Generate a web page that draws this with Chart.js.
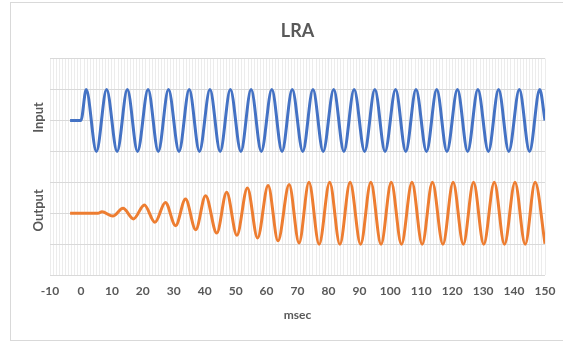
<!DOCTYPE html>
<html lang="en">
<head>
  <meta charset="UTF-8">
  <title>LRA</title>
  <script src="https://cdn.jsdelivr.net/npm/chart.js"></script>
  <style>
    html, body {
      margin: 0;
      padding: 0;
      background: #fff;
      overflow: hidden;
    }
    .frame {
      position: absolute;
      left: 10px;
      top: 2px;
      width: 620px;
      height: 337px;
      border: 1px solid #d9d9d9;
    }
    .wrap {
      position: absolute;
      left: 0;
      top: 0;
      width: 563px;
      height: 341px;
    }
  </style>
</head>
<body>
  <div class="frame"></div>
  <div class="wrap"><canvas id="lraChart" width="563" height="341"></canvas></div>

  <script>
    // peaks / troughs (msec, normalised amplitude)
    const inputTime = [-3.5, 0, 1.7, 5.0, 8.3, 11.7, 15.0, 18.3, 21.7, 25.0, 28.3, 31.7, 35.0, 38.3,
      41.7, 45.0, 48.3, 51.7, 55.0, 58.3, 61.7, 65.0, 68.3, 71.7, 75.0, 78.3, 81.7, 85.0, 88.3, 91.7,
      95.0, 98.3, 101.7, 105.0, 108.3, 111.7, 115.0, 118.3, 121.7, 125.0, 128.3, 131.7, 135.0, 138.3,
      141.7, 145.0, 148.3, 150];
    const inputValue = [0, 0, 1, -1, 1, -1, 1, -1, 1, -1, 1, -1, 1, -1,
      1, -1, 1, -1, 1, -1, 1, -1, 1, -1, 1, -1, 1, -1, 1, -1,
      1, -1, 1, -1, 1, -1, 1, -1, 1, -1, 1, -1, 1, -1,
      1, -1, 1, 0];

    const outputTime = [-3.5, 5.5, 6.8, 10.3, 13.6, 17.0, 20.5, 23.9, 27.3, 30.6, 33.8, 37.1, 40.3,
      43.9, 47.1, 50.4, 53.8, 57.1, 60.5, 63.7, 67.3, 70.5, 73.7, 77.0, 80.4, 83.7, 87.0, 90.4, 93.7,
      97.0, 100.3, 103.6, 107.0, 110.3, 113.6, 117.0, 120.3, 123.6, 126.9, 130.2, 133.6, 136.9, 140.3,
      143.6, 146.8, 150];
    const outputValue = [0, 0, 0.05, -0.09, 0.16, -0.18, 0.27, -0.29, 0.35, -0.40, 0.46, -0.53, 0.57,
      -0.64, 0.68, -0.71, 0.82, -0.80, 0.90, -0.89, 0.93, -0.96, 1.0, -1.0, 1.0, -1.0, 1.0, -1.0, 1.0,
      -1.0, 1.0, -1.0, 1.0, -1.0, 1.0, -1.0, 1.0, -1.0, 1.0, -1.0, 1.0, -1.0, 1.0,
      -1.0, 1.0, -0.98];

    const panelNames = ['Input', 'Output'];
    const INPUT_BASE = 2;
    const OUTPUT_BASE = -1;

    const textColor = '#595959';
    const fontFamily = 'Lato, "Liberation Sans", Arial, sans-serif';

    function toPoints(times, values, base) {
      return times.map((t, i) => ({ x: t, y: values[i] + base }));
    }

    const panelLabels = {
      id: 'panelLabels',
      afterDraw(chart) {
        const ctx = chart.ctx;
        const y = chart.scales.y;
        ctx.save();
        ctx.fillStyle = textColor;
        ctx.font = 'bold 13px ' + fontFamily;
        ctx.textAlign = 'center';
        ctx.textBaseline = 'middle';
        [[panelNames[0], INPUT_BASE], [panelNames[1], OUTPUT_BASE]].forEach(([txt, v]) => {
          ctx.save();
          ctx.translate(39, y.getPixelForValue(v) - 3);
          ctx.rotate(-Math.PI / 2);
          ctx.fillText(txt, 0, 0);
          ctx.restore();
        });
        ctx.restore();
      }
    };

    new Chart(document.getElementById('lraChart'), {
      type: 'line',
      data: {
        datasets: [
          {
            label: 'Input',
            data: toPoints(inputTime, inputValue, INPUT_BASE),
            borderColor: '#4472C4',
            borderWidth: 3,
            pointRadius: 0,
            cubicInterpolationMode: 'monotone',
            fill: false
          },
          {
            label: 'Output',
            data: toPoints(outputTime, outputValue, OUTPUT_BASE),
            borderColor: '#ED7D31',
            borderWidth: 3,
            pointRadius: 0,
            cubicInterpolationMode: 'monotone',
            fill: false
          }
        ]
      },
      options: {
        responsive: false,
        animation: false,
        layout: { padding: { left: 50, right: 18, top: 0, bottom: 17 } },
        plugins: {
          legend: { display: false },
          tooltip: { enabled: false },
          title: {
            display: true,
            text: 'LRA',
            color: textColor,
            font: { family: fontFamily, size: 18, weight: 'bold' },
            padding: { top: 20, bottom: 17 }
          }
        },
        scales: {
          x: {
            type: 'linear',
            min: -10,
            max: 150,
            grid: { color: '#ececec', drawTicks: false },
            border: { display: false },
            afterFit: s => { s.paddingLeft = 0; s.paddingRight = 0; },
            ticks: {
              stepSize: 1,
              autoSkip: false,
              maxRotation: 0,
              padding: 9,
              color: textColor,
              font: { family: fontFamily, size: 12, weight: 'bold' },
              callback: v => (v % 10 === 0 ? v : '')
            },
            title: {
              display: true,
              text: 'msec',
              color: textColor,
              font: { family: fontFamily, size: 12, weight: 'bold' },
              padding: { top: 0, bottom: 2 }
            }
          },
          y: {
            min: -3,
            max: 4,
            grid: { color: '#d9d9d9', drawTicks: false },
            border: { display: false },
            ticks: { stepSize: 1, display: false }
          }
        }
      },
      plugins: [panelLabels]
    });
  </script>
</body>
</html>
